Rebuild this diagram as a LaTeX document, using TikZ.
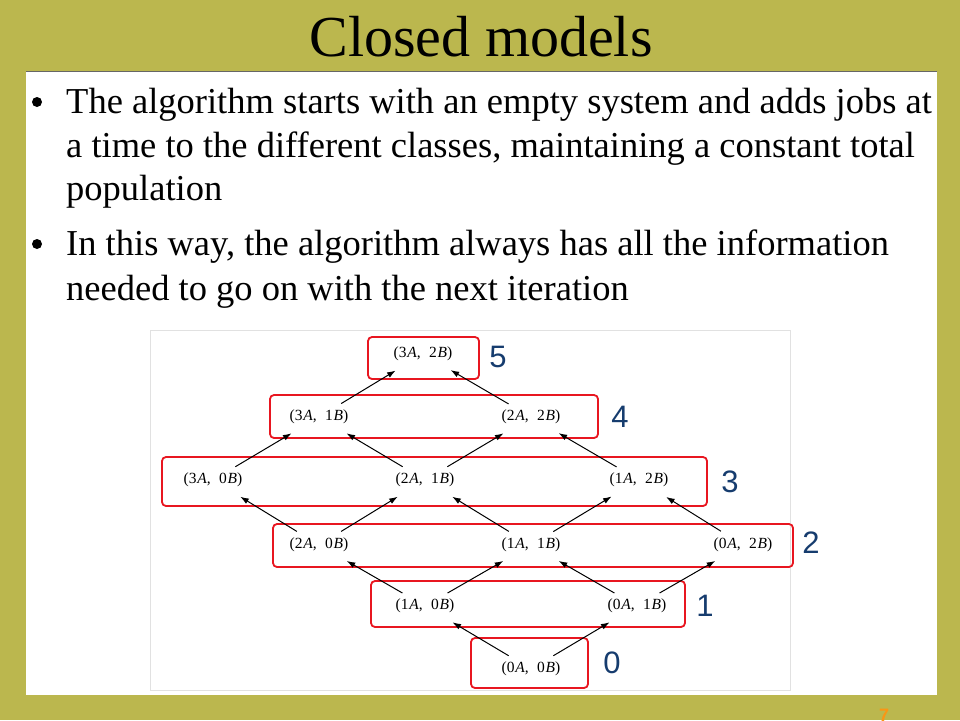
\documentclass[tikz,border=0pt]{standalone}
\usepackage{fontspec}
\setmainfont{Liberation Serif}
\newfontfamily\labfont{Liberation Sans}
\usetikzlibrary{arrows.meta}
\definecolor{olivebg}{RGB}{187,183,78}
\definecolor{boxred}{RGB}{232,22,32}
\definecolor{labblue}{RGB}{22,60,110}
\definecolor{pgorange}{RGB}{250,150,20}
\definecolor{panelgray}{RGB}{225,225,225}
\tikzset{
  st/.style={inner sep=0pt, font=\fontsize{15.5}{15.5}\selectfont},
  lvl/.style={draw=boxred, line width=1.8pt, rounded corners=4pt},
  lab/.style={inner sep=0pt, text=labblue, font=\labfont\fontsize{31}{31}\selectfont},
  arr/.style={-{Latex[length=8.5pt,width=6pt]}, line width=1pt, shorten <=26pt, shorten >=32pt},
  body/.style={inner sep=0pt, anchor=base west, font=\fontsize{36.5}{36.5}\selectfont},
  bul/.style={inner sep=0pt, outer sep=0pt, anchor=center, circle, fill=black, minimum size=10pt},
}
\newcommand{\st}[2]{(#1\hspace{0.05em}\textit{A},\hspace{0.55em}#2\hspace{0.05em}\textit{B})}
\begin{document}
\begin{tikzpicture}[x=1pt,y=-1pt]
\useasboundingbox (0,0) rectangle (960,720);
\fill[olivebg] (0,0) rectangle (960,720);
\fill[white] (26,71) rectangle (937,695);
\draw[black!60, line width=1pt] (26,71) -- (937,71);
% title
\node[inner sep=0pt, anchor=base, font=\fontsize{58}{58}\selectfont] (title) at (481,56) {Closed models};
% bullets
\node[bul] (b1) at (37,102) {};
\node[body] (t1) at (66,113) {The algorithm starts with an empty system and adds jobs at};
\node[body] (t2) at (66,157) {a time to the different classes, maintaining a constant total};
\node[body] (t3) at (66,200) {population};
\node[bul] (b2) at (37,244) {};
\node[body] (t4) at (66,255) {In this way, the algorithm always has all the information};
\node[body] (t5) at (66,300) {needed to go on with the next iteration};
% diagram panel
\draw[panelgray, line width=0.8pt, fill=white] (150,330) rectangle (790,690);
% level boxes
\draw[lvl] (368,337) rectangle (479,379);
\draw[lvl] (270,395) rectangle (598,438);
\draw[lvl] (162,457) rectangle (707,506);
\draw[lvl] (273,524) rectangle (793,567);
\draw[lvl] (371,581) rectangle (685,627);
\draw[lvl] (471,638) rectangle (588,688);
% states
\node[st] (s00) at (531,669) {\st00};
\node[st] (s10) at (425,606) {\st10};
\node[st] (s01) at (637,606) {\st01};
\node[st] (s20) at (319,545) {\st20};
\node[st] (s11) at (531,545) {\st11};
\node[st] (s02) at (743,545) {\st02};
\node[st] (s30) at (213,480) {\st30};
\node[st] (s21) at (425,480) {\st21};
\node[st] (s12) at (639,480) {\st12};
\node[st] (s31) at (319,417) {\st31};
\node[st] (s22) at (531,417) {\st22};
\node[st] (s32) at (423,354) {\st32};
% arrows
\foreach \a/\b in {s00/s10,s00/s01,s10/s20,s10/s11,s01/s11,s01/s02,
  s20/s30,s20/s21,s11/s21,s11/s12,s02/s12,s30/s31,s21/s31,s21/s22,s12/s22,s31/s32,s22/s32}
  \draw[arr] (\a.center) -- (\b.center);
% level labels
\node[lab] (l5) at (498,357) {5};
\node[lab] (l4) at (620,417) {4};
\node[lab] (l3) at (730,482) {3};
\node[lab] (l2) at (811,543) {2};
\node[lab] (l1) at (705,606) {1};
\node[lab] (l0) at (612,663) {0};
% page number
\node[inner sep=0pt, anchor=base, text=pgorange, font=\labfont\bfseries\fontsize{18}{18}\selectfont] (pg) at (884,721) {7};
\end{tikzpicture}
\end{document}
